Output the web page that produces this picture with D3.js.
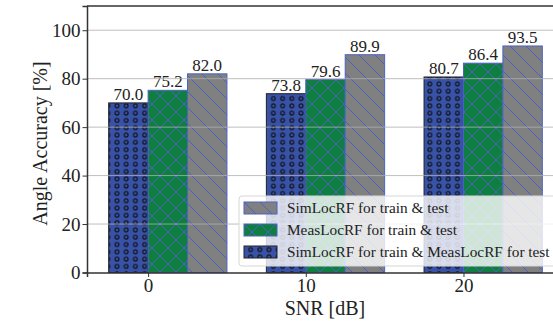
<!DOCTYPE html>
<html>
<head>
<meta charset="utf-8">
<script src="https://cdn.jsdelivr.net/npm/d3@7"></script>
<style>
  body { margin: 0; background: #fff; }
  svg { font-family: "Liberation Serif", "DejaVu Serif", serif; }
</style>
</head>
<body>
<div id="chart"></div>
<script>
// data ------------------------------------------------------------------
const snrLevels = [0, 10, 20];
const yTicks = [0, 20, 40, 60, 80, 100];
const crossVals = [70.0, 73.8, 80.7];   // SimLocRF train, MeasLocRF test
const measVals = [75.2, 79.6, 86.4];    // MeasLocRF train & test
const simVals = [82.0, 89.9, 93.5];     // SimLocRF train & test
const seriesNames = [
    "SimLocRF for train & MeasLocRF for test",
    "MeasLocRF for train & test",
    "SimLocRF for train & test"
];
const seriesValues = [crossVals, measVals, simVals];

const width = 553, height = 322;
const barW = 2.5;

const svg = d3.select('#chart').append('svg')
    .attr('width', width).attr('height', height);

const x = d3.scaleLinear().domain([-3.875, 26.375]).range([87, 564]);
const y = d3.scaleLinear().domain([0, 110]).range([272.5, 6]);

// hatch patterns
const defs = svg.append('defs');
const hatchBlue = '#4b62c4';

const pDiag = defs.append('pattern').attr('id', 'diag')
    .attr('patternUnits', 'userSpaceOnUse').attr('width', 16).attr('height', 16);
pDiag.append('rect').attr('width', 16).attr('height', 16).attr('fill', '#808080');
pDiag.append('path').attr('d', 'M-4,-4L20,20M-4,12L4,20M12,-4L20,4')
    .attr('stroke', hatchBlue).attr('stroke-width', 1);

const pCross = defs.append('pattern').attr('id', 'cross')
    .attr('patternUnits', 'userSpaceOnUse').attr('width', 16).attr('height', 16);
pCross.append('rect').attr('width', 16).attr('height', 16).attr('fill', '#0e7f3f');
pCross.append('path').attr('d', 'M-4,-4L20,20M-4,12L4,20M12,-4L20,4M-4,20L20,-4M-4,4L4,-4M12,20L20,12')
    .attr('stroke', hatchBlue).attr('stroke-width', 1);

const pDots = defs.append('pattern').attr('id', 'dots')
    .attr('patternUnits', 'userSpaceOnUse').attr('width', 9.2).attr('height', 7.3)
    .attr('x', 2).attr('y', 0);
pDots.append('rect').attr('width', 9.2).attr('height', 7.3).attr('fill', '#3852a8');
pDots.append('circle').attr('cx', 4.6).attr('cy', 3.65).attr('r', 1.9)
    .attr('fill', 'none').attr('stroke', '#111').attr('stroke-width', 1.1);

const fills = ['url(#dots)', 'url(#cross)', 'url(#diag)'];
const edges = ['#222', hatchBlue, hatchBlue];
const offsets = [-barW, 0, barW];

// bars
seriesValues.forEach((vals, s) => {
    const g = svg.append('g');
    g.selectAll('rect')
        .data(vals)
        .join('rect')
        .attr('x', (d, i) => x(snrLevels[i] + offsets[s]))
        .attr('width', x(barW) - x(0))
        .attr('y', d => y(d))
        .attr('height', d => y(0) - y(d))
        .attr('fill', fills[s])
        .attr('stroke', edges[s])
        .attr('stroke-width', 1);

    g.selectAll('text')
        .data(vals)
        .join('text')
        .attr('x', (d, i) => x(snrLevels[i] + offsets[s] + barW / 2))
        .attr('y', d => y(d) - 3)
        .attr('text-anchor', 'middle')
        .attr('font-size', '17px')
        .attr('fill', '#222')
        .text(d => d.toFixed(1));
});

// grid lines (drawn over the bars)
svg.append('g')
    .selectAll('line')
    .data(yTicks.slice(1))
    .join('line')
    .attr('x1', 87).attr('x2', width)
    .attr('y1', d => y(d)).attr('y2', d => y(d))
    .attr('stroke', '#b0b0b0').attr('stroke-width', 1).attr('opacity', 0.8);

// axes
const yAxis = svg.append('g')
    .attr('transform', `translate(${x.range()[0]},0)`)
    .call(d3.axisLeft(y).tickValues(yTicks).tickSize(4.5).tickPadding(2));
const xAxis = svg.append('g')
    .attr('transform', `translate(0,${y(0)})`)
    .call(d3.axisBottom(x).tickValues(snrLevels).tickSize(4.5).tickPadding(1.5));

[yAxis, xAxis].forEach(a => {
    a.attr('font-family', null).attr('font-size', null);
    a.select('.domain').attr('stroke', '#333').attr('stroke-width', 1.5);
    a.selectAll('.tick line').attr('stroke', '#333').attr('stroke-width', 1);
    a.selectAll('.tick text')
        .attr('font-size', '19px').attr('fill', '#222');
});

// top spine
svg.append('line')
    .attr('x1', 87).attr('x2', width)
    .attr('y1', 6).attr('y2', 6)
    .attr('stroke', '#333').attr('stroke-width', 1.5);

// axis labels
svg.append('text')
    .attr('x', 325).attr('y', 315)
    .attr('text-anchor', 'middle')
    .attr('font-size', '20px').attr('fill', '#222')
    .text('SNR [dB]');

svg.append('text')
    .attr('transform', 'rotate(-90)')
    .attr('x', -143.5).attr('y', 47)
    .attr('text-anchor', 'middle')
    .attr('font-size', '20px').attr('fill', '#222')
    .text('Angle Accuracy [%]');

// legend
const legend = svg.append('g').attr('transform', 'translate(239,196)');
legend.append('rect')
    .attr('width', 318).attr('height', 70)
    .attr('rx', 3)
    .attr('fill', 'white').attr('fill-opacity', 0.8)
    .attr('stroke', '#d6d6d6').attr('stroke-width', 1);

const legendOrder = [2, 1, 0];
const items = legend.selectAll('g.item')
    .data(legendOrder)
    .join('g')
    .attr('class', 'item')
    .attr('transform', (d, i) => `translate(5,${6 + i * 22})`);

items.append('rect')
    .attr('width', 33).attr('height', 12)
    .attr('fill', d => fills[d])
    .attr('stroke', d => edges[d])
    .attr('stroke-width', 1);

items.append('text')
    .attr('x', 43).attr('y', 6)
    .attr('dy', '0.35em')
    .attr('font-size', '15.3px').attr('fill', '#222')
    .text(d => seriesNames[d]);
</script>
</body>
</html>
